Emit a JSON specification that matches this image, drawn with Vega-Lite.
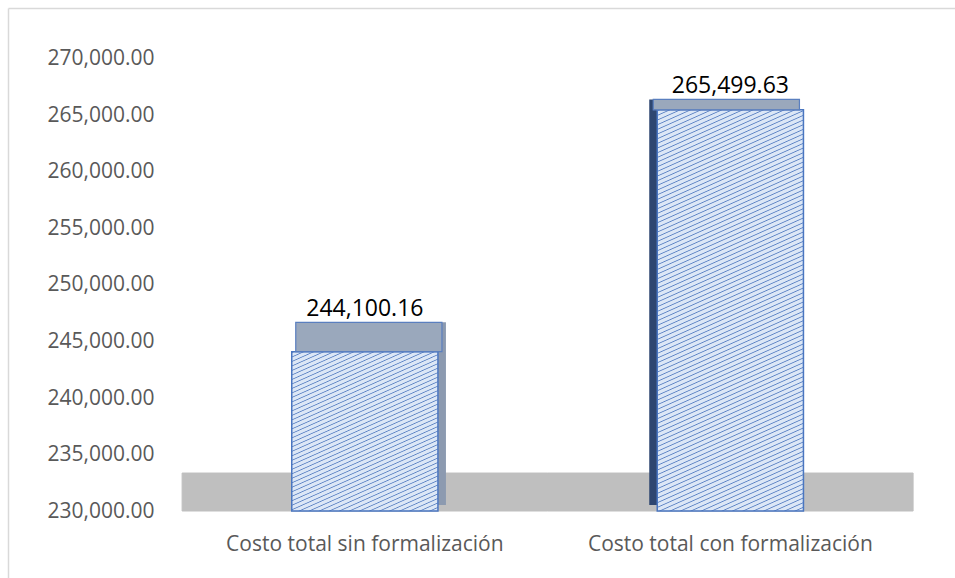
{
  "$schema": "https://vega.github.io/schema/vega-lite/v6.json",
  "width": 947,
  "height": 570,
  "autosize": "none",
  "padding": {"left": 8, "top": 8, "right": 0, "bottom": 0},
  "background": "white",
  "config": {"view": {"stroke": null}, "font": "Open Sans"},
  "data": {"values": [
    {"categoria": "Costo total sin formalización", "costo": 244100.16},
    {"categoria": "Costo total con formalización", "costo": 265499.63}
  ]},
  "encoding": {
    "x": {
      "field": "categoria", "type": "nominal", "sort": null,
      "scale": {"paddingInner": 0, "paddingOuter": 0.2955, "align": 0.806},
      "axis": {"orient": "top", "title": null, "labelAngle": 0, "domain": true, "domainColor": "#d9d9d9", "domainWidth": 1.5,
               "ticks": false, "labelPadding": -525, "labelLimit": 500,
               "labelFontSize": 21, "labelColor": "#595959", "labelFont": "Open Sans", "labelBaseline": "top"}
    },
    "y": {
      "field": "costo", "type": "quantitative",
      "scale": {"domain": [224071, 274513], "nice": false, "zero": false},
      "axis": {"title": null, "grid": false, "domain": true, "domainColor": "#d9d9d9", "domainWidth": 1.5, "ticks": false,
               "values": [230000, 235000, 240000, 245000, 250000, 255000, 260000, 265000, 270000],
               "format": ",.2f", "labelPadding": -146, "labelAlign": "right", "labelBaseline": "middle",
               "labelFontSize": 21, "labelColor": "#595959", "labelFont": "Open Sans"}
    }
  },
  "layer": [
    {
      "mark": {"type": "bar", "fill": "#bfbfbf", "stroke": "#bfbfbf", "strokeWidth": 1, "width": {"band": 1}},
      "encoding": {"y": {"datum": 230000, "type": "quantitative"}, "y2": {"datum": 233360}}
    },
    {
      "mark": {"type": "bar", "width": {"band": 0.4},
               "xOffset": {"expr": "scale('x', datum.categoria) + bandwidth('x')/2 < width/2 ? 8 : -8"},
               "yOffset": {"expr": "-(0.078*scale('y', datum.costo) + 2.5)"},
               "y2Offset": -6},
      "encoding": {
        "y2": {"datum": 230000},
        "color": {"field": "categoria", "type": "nominal", "legend": null,
                  "scale": {"domain": ["Costo total sin formalización", "Costo total con formalización"],
                            "range": ["#8c9ab0", "#2e4670"]}}
      }
    },
    {
      "transform": [{"filter": {"field": "categoria", "equal": "Costo total sin formalización"}}],
      "mark": {"type": "bar", "width": {"band": 0.4}, "stroke": "#4a76c0", "strokeWidth": 1.5,
               "fill": {"gradient": "linear", "x1": 0, "y1": 0, "x2": 0.495, "y2": 1.207, "stops": [
{"offset":0,"color":"#dce7f6"},{"offset":0.004,"color":"#5b82c4"},{"offset":0.008,"color":"#dce7f6"},
{"offset":0.02,"color":"#dce7f6"},{"offset":0.024,"color":"#5b82c4"},{"offset":0.028,"color":"#dce7f6"},
{"offset":0.04,"color":"#dce7f6"},{"offset":0.044,"color":"#5b82c4"},{"offset":0.048,"color":"#dce7f6"},
{"offset":0.06,"color":"#dce7f6"},{"offset":0.064,"color":"#5b82c4"},{"offset":0.068,"color":"#dce7f6"},
{"offset":0.08,"color":"#dce7f6"},{"offset":0.084,"color":"#5b82c4"},{"offset":0.088,"color":"#dce7f6"},
{"offset":0.1,"color":"#dce7f6"},{"offset":0.104,"color":"#5b82c4"},{"offset":0.108,"color":"#dce7f6"},
{"offset":0.12,"color":"#dce7f6"},{"offset":0.124,"color":"#5b82c4"},{"offset":0.128,"color":"#dce7f6"},
{"offset":0.14,"color":"#dce7f6"},{"offset":0.144,"color":"#5b82c4"},{"offset":0.148,"color":"#dce7f6"},
{"offset":0.16,"color":"#dce7f6"},{"offset":0.164,"color":"#5b82c4"},{"offset":0.168,"color":"#dce7f6"},
{"offset":0.18,"color":"#dce7f6"},{"offset":0.184,"color":"#5b82c4"},{"offset":0.188,"color":"#dce7f6"},
{"offset":0.2,"color":"#dce7f6"},{"offset":0.204,"color":"#5b82c4"},{"offset":0.208,"color":"#dce7f6"},
{"offset":0.22,"color":"#dce7f6"},{"offset":0.224,"color":"#5b82c4"},{"offset":0.228,"color":"#dce7f6"},
{"offset":0.24,"color":"#dce7f6"},{"offset":0.244,"color":"#5b82c4"},{"offset":0.248,"color":"#dce7f6"},
{"offset":0.26,"color":"#dce7f6"},{"offset":0.264,"color":"#5b82c4"},{"offset":0.268,"color":"#dce7f6"},
{"offset":0.28,"color":"#dce7f6"},{"offset":0.284,"color":"#5b82c4"},{"offset":0.288,"color":"#dce7f6"},
{"offset":0.3,"color":"#dce7f6"},{"offset":0.304,"color":"#5b82c4"},{"offset":0.308,"color":"#dce7f6"},
{"offset":0.32,"color":"#dce7f6"},{"offset":0.324,"color":"#5b82c4"},{"offset":0.328,"color":"#dce7f6"},
{"offset":0.34,"color":"#dce7f6"},{"offset":0.344,"color":"#5b82c4"},{"offset":0.348,"color":"#dce7f6"},
{"offset":0.36,"color":"#dce7f6"},{"offset":0.364,"color":"#5b82c4"},{"offset":0.368,"color":"#dce7f6"},
{"offset":0.38,"color":"#dce7f6"},{"offset":0.384,"color":"#5b82c4"},{"offset":0.388,"color":"#dce7f6"},
{"offset":0.4,"color":"#dce7f6"},{"offset":0.404,"color":"#5b82c4"},{"offset":0.408,"color":"#dce7f6"},
{"offset":0.42,"color":"#dce7f6"},{"offset":0.424,"color":"#5b82c4"},{"offset":0.428,"color":"#dce7f6"},
{"offset":0.44,"color":"#dce7f6"},{"offset":0.444,"color":"#5b82c4"},{"offset":0.448,"color":"#dce7f6"},
{"offset":0.46,"color":"#dce7f6"},{"offset":0.464,"color":"#5b82c4"},{"offset":0.468,"color":"#dce7f6"},
{"offset":0.48,"color":"#dce7f6"},{"offset":0.484,"color":"#5b82c4"},{"offset":0.488,"color":"#dce7f6"},
{"offset":0.5,"color":"#dce7f6"},{"offset":0.504,"color":"#5b82c4"},{"offset":0.508,"color":"#dce7f6"},
{"offset":0.52,"color":"#dce7f6"},{"offset":0.524,"color":"#5b82c4"},{"offset":0.528,"color":"#dce7f6"},
{"offset":0.54,"color":"#dce7f6"},{"offset":0.544,"color":"#5b82c4"},{"offset":0.548,"color":"#dce7f6"},
{"offset":0.56,"color":"#dce7f6"},{"offset":0.564,"color":"#5b82c4"},{"offset":0.568,"color":"#dce7f6"},
{"offset":0.58,"color":"#dce7f6"},{"offset":0.584,"color":"#5b82c4"},{"offset":0.588,"color":"#dce7f6"},
{"offset":0.6,"color":"#dce7f6"},{"offset":0.604,"color":"#5b82c4"},{"offset":0.608,"color":"#dce7f6"},
{"offset":0.62,"color":"#dce7f6"},{"offset":0.624,"color":"#5b82c4"},{"offset":0.628,"color":"#dce7f6"},
{"offset":0.64,"color":"#dce7f6"},{"offset":0.644,"color":"#5b82c4"},{"offset":0.648,"color":"#dce7f6"},
{"offset":0.66,"color":"#dce7f6"},{"offset":0.664,"color":"#5b82c4"},{"offset":0.668,"color":"#dce7f6"},
{"offset":0.68,"color":"#dce7f6"},{"offset":0.684,"color":"#5b82c4"},{"offset":0.688,"color":"#dce7f6"},
{"offset":0.7,"color":"#dce7f6"},{"offset":0.704,"color":"#5b82c4"},{"offset":0.708,"color":"#dce7f6"},
{"offset":0.72,"color":"#dce7f6"},{"offset":0.724,"color":"#5b82c4"},{"offset":0.728,"color":"#dce7f6"},
{"offset":0.74,"color":"#dce7f6"},{"offset":0.744,"color":"#5b82c4"},{"offset":0.748,"color":"#dce7f6"},
{"offset":0.76,"color":"#dce7f6"},{"offset":0.764,"color":"#5b82c4"},{"offset":0.768,"color":"#dce7f6"},
{"offset":0.78,"color":"#dce7f6"},{"offset":0.784,"color":"#5b82c4"},{"offset":0.788,"color":"#dce7f6"},
{"offset":0.8,"color":"#dce7f6"},{"offset":0.804,"color":"#5b82c4"},{"offset":0.808,"color":"#dce7f6"},
{"offset":0.82,"color":"#dce7f6"},{"offset":0.824,"color":"#5b82c4"},{"offset":0.828,"color":"#dce7f6"},
{"offset":0.84,"color":"#dce7f6"},{"offset":0.844,"color":"#5b82c4"},{"offset":0.848,"color":"#dce7f6"},
{"offset":0.86,"color":"#dce7f6"},{"offset":0.864,"color":"#5b82c4"},{"offset":0.868,"color":"#dce7f6"},
{"offset":0.88,"color":"#dce7f6"},{"offset":0.884,"color":"#5b82c4"},{"offset":0.888,"color":"#dce7f6"},
{"offset":0.9,"color":"#dce7f6"},{"offset":0.904,"color":"#5b82c4"},{"offset":0.908,"color":"#dce7f6"},
{"offset":0.92,"color":"#dce7f6"},{"offset":0.924,"color":"#5b82c4"},{"offset":0.928,"color":"#dce7f6"},
{"offset":0.94,"color":"#dce7f6"},{"offset":0.944,"color":"#5b82c4"},{"offset":0.948,"color":"#dce7f6"},
{"offset":0.96,"color":"#dce7f6"},{"offset":0.964,"color":"#5b82c4"},{"offset":0.968,"color":"#dce7f6"},
{"offset":0.98,"color":"#dce7f6"},{"offset":0.984,"color":"#5b82c4"},{"offset":0.988,"color":"#dce7f6"},
{"offset":1,"color":"#dce7f6"}
               ]}},
      "encoding": {"y2": {"datum": 230000}}
    },
    {
      "transform": [{"filter": {"field": "categoria", "equal": "Costo total con formalización"}}],
      "mark": {"type": "bar", "width": {"band": 0.4}, "stroke": "#4a76c0", "strokeWidth": 1.5,
               "fill": {"gradient": "linear", "x1": 0, "y1": 0, "x2": 0.185, "y2": 1.133, "stops": [
{"offset":0,"color":"#dce7f6"},{"offset":0.002,"color":"#5b82c4"},{"offset":0.004,"color":"#dce7f6"},
{"offset":0.01,"color":"#dce7f6"},{"offset":0.012,"color":"#5b82c4"},{"offset":0.014,"color":"#dce7f6"},
{"offset":0.02,"color":"#dce7f6"},{"offset":0.022,"color":"#5b82c4"},{"offset":0.024,"color":"#dce7f6"},
{"offset":0.03,"color":"#dce7f6"},{"offset":0.032,"color":"#5b82c4"},{"offset":0.034,"color":"#dce7f6"},
{"offset":0.04,"color":"#dce7f6"},{"offset":0.042,"color":"#5b82c4"},{"offset":0.044,"color":"#dce7f6"},
{"offset":0.05,"color":"#dce7f6"},{"offset":0.052,"color":"#5b82c4"},{"offset":0.054,"color":"#dce7f6"},
{"offset":0.06,"color":"#dce7f6"},{"offset":0.062,"color":"#5b82c4"},{"offset":0.064,"color":"#dce7f6"},
{"offset":0.07,"color":"#dce7f6"},{"offset":0.072,"color":"#5b82c4"},{"offset":0.074,"color":"#dce7f6"},
{"offset":0.08,"color":"#dce7f6"},{"offset":0.082,"color":"#5b82c4"},{"offset":0.084,"color":"#dce7f6"},
{"offset":0.09,"color":"#dce7f6"},{"offset":0.092,"color":"#5b82c4"},{"offset":0.094,"color":"#dce7f6"},
{"offset":0.1,"color":"#dce7f6"},{"offset":0.102,"color":"#5b82c4"},{"offset":0.104,"color":"#dce7f6"},
{"offset":0.11,"color":"#dce7f6"},{"offset":0.112,"color":"#5b82c4"},{"offset":0.114,"color":"#dce7f6"},
{"offset":0.12,"color":"#dce7f6"},{"offset":0.122,"color":"#5b82c4"},{"offset":0.124,"color":"#dce7f6"},
{"offset":0.13,"color":"#dce7f6"},{"offset":0.132,"color":"#5b82c4"},{"offset":0.134,"color":"#dce7f6"},
{"offset":0.14,"color":"#dce7f6"},{"offset":0.142,"color":"#5b82c4"},{"offset":0.144,"color":"#dce7f6"},
{"offset":0.15,"color":"#dce7f6"},{"offset":0.152,"color":"#5b82c4"},{"offset":0.154,"color":"#dce7f6"},
{"offset":0.16,"color":"#dce7f6"},{"offset":0.162,"color":"#5b82c4"},{"offset":0.164,"color":"#dce7f6"},
{"offset":0.17,"color":"#dce7f6"},{"offset":0.172,"color":"#5b82c4"},{"offset":0.174,"color":"#dce7f6"},
{"offset":0.18,"color":"#dce7f6"},{"offset":0.182,"color":"#5b82c4"},{"offset":0.184,"color":"#dce7f6"},
{"offset":0.19,"color":"#dce7f6"},{"offset":0.192,"color":"#5b82c4"},{"offset":0.194,"color":"#dce7f6"},
{"offset":0.2,"color":"#dce7f6"},{"offset":0.202,"color":"#5b82c4"},{"offset":0.204,"color":"#dce7f6"},
{"offset":0.21,"color":"#dce7f6"},{"offset":0.212,"color":"#5b82c4"},{"offset":0.214,"color":"#dce7f6"},
{"offset":0.22,"color":"#dce7f6"},{"offset":0.222,"color":"#5b82c4"},{"offset":0.224,"color":"#dce7f6"},
{"offset":0.23,"color":"#dce7f6"},{"offset":0.232,"color":"#5b82c4"},{"offset":0.234,"color":"#dce7f6"},
{"offset":0.24,"color":"#dce7f6"},{"offset":0.242,"color":"#5b82c4"},{"offset":0.244,"color":"#dce7f6"},
{"offset":0.25,"color":"#dce7f6"},{"offset":0.252,"color":"#5b82c4"},{"offset":0.254,"color":"#dce7f6"},
{"offset":0.26,"color":"#dce7f6"},{"offset":0.262,"color":"#5b82c4"},{"offset":0.264,"color":"#dce7f6"},
{"offset":0.27,"color":"#dce7f6"},{"offset":0.272,"color":"#5b82c4"},{"offset":0.274,"color":"#dce7f6"},
{"offset":0.28,"color":"#dce7f6"},{"offset":0.282,"color":"#5b82c4"},{"offset":0.284,"color":"#dce7f6"},
{"offset":0.29,"color":"#dce7f6"},{"offset":0.292,"color":"#5b82c4"},{"offset":0.294,"color":"#dce7f6"},
{"offset":0.3,"color":"#dce7f6"},{"offset":0.302,"color":"#5b82c4"},{"offset":0.304,"color":"#dce7f6"},
{"offset":0.31,"color":"#dce7f6"},{"offset":0.312,"color":"#5b82c4"},{"offset":0.314,"color":"#dce7f6"},
{"offset":0.32,"color":"#dce7f6"},{"offset":0.322,"color":"#5b82c4"},{"offset":0.324,"color":"#dce7f6"},
{"offset":0.33,"color":"#dce7f6"},{"offset":0.332,"color":"#5b82c4"},{"offset":0.334,"color":"#dce7f6"},
{"offset":0.34,"color":"#dce7f6"},{"offset":0.342,"color":"#5b82c4"},{"offset":0.344,"color":"#dce7f6"},
{"offset":0.35,"color":"#dce7f6"},{"offset":0.352,"color":"#5b82c4"},{"offset":0.354,"color":"#dce7f6"},
{"offset":0.36,"color":"#dce7f6"},{"offset":0.362,"color":"#5b82c4"},{"offset":0.364,"color":"#dce7f6"},
{"offset":0.37,"color":"#dce7f6"},{"offset":0.372,"color":"#5b82c4"},{"offset":0.374,"color":"#dce7f6"},
{"offset":0.38,"color":"#dce7f6"},{"offset":0.382,"color":"#5b82c4"},{"offset":0.384,"color":"#dce7f6"},
{"offset":0.39,"color":"#dce7f6"},{"offset":0.392,"color":"#5b82c4"},{"offset":0.394,"color":"#dce7f6"},
{"offset":0.4,"color":"#dce7f6"},{"offset":0.402,"color":"#5b82c4"},{"offset":0.404,"color":"#dce7f6"},
{"offset":0.41,"color":"#dce7f6"},{"offset":0.412,"color":"#5b82c4"},{"offset":0.414,"color":"#dce7f6"},
{"offset":0.42,"color":"#dce7f6"},{"offset":0.422,"color":"#5b82c4"},{"offset":0.424,"color":"#dce7f6"},
{"offset":0.43,"color":"#dce7f6"},{"offset":0.432,"color":"#5b82c4"},{"offset":0.434,"color":"#dce7f6"},
{"offset":0.44,"color":"#dce7f6"},{"offset":0.442,"color":"#5b82c4"},{"offset":0.444,"color":"#dce7f6"},
{"offset":0.45,"color":"#dce7f6"},{"offset":0.452,"color":"#5b82c4"},{"offset":0.454,"color":"#dce7f6"},
{"offset":0.46,"color":"#dce7f6"},{"offset":0.462,"color":"#5b82c4"},{"offset":0.464,"color":"#dce7f6"},
{"offset":0.47,"color":"#dce7f6"},{"offset":0.472,"color":"#5b82c4"},{"offset":0.474,"color":"#dce7f6"},
{"offset":0.48,"color":"#dce7f6"},{"offset":0.482,"color":"#5b82c4"},{"offset":0.484,"color":"#dce7f6"},
{"offset":0.49,"color":"#dce7f6"},{"offset":0.492,"color":"#5b82c4"},{"offset":0.494,"color":"#dce7f6"},
{"offset":0.5,"color":"#dce7f6"},{"offset":0.502,"color":"#5b82c4"},{"offset":0.504,"color":"#dce7f6"},
{"offset":0.51,"color":"#dce7f6"},{"offset":0.512,"color":"#5b82c4"},{"offset":0.514,"color":"#dce7f6"},
{"offset":0.52,"color":"#dce7f6"},{"offset":0.522,"color":"#5b82c4"},{"offset":0.524,"color":"#dce7f6"},
{"offset":0.53,"color":"#dce7f6"},{"offset":0.532,"color":"#5b82c4"},{"offset":0.534,"color":"#dce7f6"},
{"offset":0.54,"color":"#dce7f6"},{"offset":0.542,"color":"#5b82c4"},{"offset":0.544,"color":"#dce7f6"},
{"offset":0.55,"color":"#dce7f6"},{"offset":0.552,"color":"#5b82c4"},{"offset":0.554,"color":"#dce7f6"},
{"offset":0.56,"color":"#dce7f6"},{"offset":0.562,"color":"#5b82c4"},{"offset":0.564,"color":"#dce7f6"},
{"offset":0.57,"color":"#dce7f6"},{"offset":0.572,"color":"#5b82c4"},{"offset":0.574,"color":"#dce7f6"},
{"offset":0.58,"color":"#dce7f6"},{"offset":0.582,"color":"#5b82c4"},{"offset":0.584,"color":"#dce7f6"},
{"offset":0.59,"color":"#dce7f6"},{"offset":0.592,"color":"#5b82c4"},{"offset":0.594,"color":"#dce7f6"},
{"offset":0.6,"color":"#dce7f6"},{"offset":0.602,"color":"#5b82c4"},{"offset":0.604,"color":"#dce7f6"},
{"offset":0.61,"color":"#dce7f6"},{"offset":0.612,"color":"#5b82c4"},{"offset":0.614,"color":"#dce7f6"},
{"offset":0.62,"color":"#dce7f6"},{"offset":0.622,"color":"#5b82c4"},{"offset":0.624,"color":"#dce7f6"},
{"offset":0.63,"color":"#dce7f6"},{"offset":0.632,"color":"#5b82c4"},{"offset":0.634,"color":"#dce7f6"},
{"offset":0.64,"color":"#dce7f6"},{"offset":0.642,"color":"#5b82c4"},{"offset":0.644,"color":"#dce7f6"},
{"offset":0.65,"color":"#dce7f6"},{"offset":0.652,"color":"#5b82c4"},{"offset":0.654,"color":"#dce7f6"},
{"offset":0.66,"color":"#dce7f6"},{"offset":0.662,"color":"#5b82c4"},{"offset":0.664,"color":"#dce7f6"},
{"offset":0.67,"color":"#dce7f6"},{"offset":0.672,"color":"#5b82c4"},{"offset":0.674,"color":"#dce7f6"},
{"offset":0.68,"color":"#dce7f6"},{"offset":0.682,"color":"#5b82c4"},{"offset":0.684,"color":"#dce7f6"},
{"offset":0.69,"color":"#dce7f6"},{"offset":0.692,"color":"#5b82c4"},{"offset":0.694,"color":"#dce7f6"},
{"offset":0.7,"color":"#dce7f6"},{"offset":0.702,"color":"#5b82c4"},{"offset":0.704,"color":"#dce7f6"},
{"offset":0.71,"color":"#dce7f6"},{"offset":0.712,"color":"#5b82c4"},{"offset":0.714,"color":"#dce7f6"},
{"offset":0.72,"color":"#dce7f6"},{"offset":0.722,"color":"#5b82c4"},{"offset":0.724,"color":"#dce7f6"},
{"offset":0.73,"color":"#dce7f6"},{"offset":0.732,"color":"#5b82c4"},{"offset":0.734,"color":"#dce7f6"},
{"offset":0.74,"color":"#dce7f6"},{"offset":0.742,"color":"#5b82c4"},{"offset":0.744,"color":"#dce7f6"},
{"offset":0.75,"color":"#dce7f6"},{"offset":0.752,"color":"#5b82c4"},{"offset":0.754,"color":"#dce7f6"},
{"offset":0.76,"color":"#dce7f6"},{"offset":0.762,"color":"#5b82c4"},{"offset":0.764,"color":"#dce7f6"},
{"offset":0.77,"color":"#dce7f6"},{"offset":0.772,"color":"#5b82c4"},{"offset":0.774,"color":"#dce7f6"},
{"offset":0.78,"color":"#dce7f6"},{"offset":0.782,"color":"#5b82c4"},{"offset":0.784,"color":"#dce7f6"},
{"offset":0.79,"color":"#dce7f6"},{"offset":0.792,"color":"#5b82c4"},{"offset":0.794,"color":"#dce7f6"},
{"offset":0.8,"color":"#dce7f6"},{"offset":0.802,"color":"#5b82c4"},{"offset":0.804,"color":"#dce7f6"},
{"offset":0.81,"color":"#dce7f6"},{"offset":0.812,"color":"#5b82c4"},{"offset":0.814,"color":"#dce7f6"},
{"offset":0.82,"color":"#dce7f6"},{"offset":0.822,"color":"#5b82c4"},{"offset":0.824,"color":"#dce7f6"},
{"offset":0.83,"color":"#dce7f6"},{"offset":0.832,"color":"#5b82c4"},{"offset":0.834,"color":"#dce7f6"},
{"offset":0.84,"color":"#dce7f6"},{"offset":0.842,"color":"#5b82c4"},{"offset":0.844,"color":"#dce7f6"},
{"offset":0.85,"color":"#dce7f6"},{"offset":0.852,"color":"#5b82c4"},{"offset":0.854,"color":"#dce7f6"},
{"offset":0.86,"color":"#dce7f6"},{"offset":0.862,"color":"#5b82c4"},{"offset":0.864,"color":"#dce7f6"},
{"offset":0.87,"color":"#dce7f6"},{"offset":0.872,"color":"#5b82c4"},{"offset":0.874,"color":"#dce7f6"},
{"offset":0.88,"color":"#dce7f6"},{"offset":0.882,"color":"#5b82c4"},{"offset":0.884,"color":"#dce7f6"},
{"offset":0.89,"color":"#dce7f6"},{"offset":0.892,"color":"#5b82c4"},{"offset":0.894,"color":"#dce7f6"},
{"offset":0.9,"color":"#dce7f6"},{"offset":0.902,"color":"#5b82c4"},{"offset":0.904,"color":"#dce7f6"},
{"offset":0.91,"color":"#dce7f6"},{"offset":0.912,"color":"#5b82c4"},{"offset":0.914,"color":"#dce7f6"},
{"offset":0.92,"color":"#dce7f6"},{"offset":0.922,"color":"#5b82c4"},{"offset":0.924,"color":"#dce7f6"},
{"offset":0.93,"color":"#dce7f6"},{"offset":0.932,"color":"#5b82c4"},{"offset":0.934,"color":"#dce7f6"},
{"offset":0.94,"color":"#dce7f6"},{"offset":0.942,"color":"#5b82c4"},{"offset":0.944,"color":"#dce7f6"},
{"offset":0.95,"color":"#dce7f6"},{"offset":0.952,"color":"#5b82c4"},{"offset":0.954,"color":"#dce7f6"},
{"offset":0.96,"color":"#dce7f6"},{"offset":0.962,"color":"#5b82c4"},{"offset":0.964,"color":"#dce7f6"},
{"offset":0.97,"color":"#dce7f6"},{"offset":0.972,"color":"#5b82c4"},{"offset":0.974,"color":"#dce7f6"},
{"offset":0.98,"color":"#dce7f6"},{"offset":0.982,"color":"#5b82c4"},{"offset":0.984,"color":"#dce7f6"},
{"offset":0.99,"color":"#dce7f6"},{"offset":0.992,"color":"#5b82c4"},{"offset":0.994,"color":"#dce7f6"},
{"offset":1,"color":"#dce7f6"}
               ]}},
      "encoding": {"y2": {"datum": 230000}}
    },
    {
      "mark": {"type": "bar", "width": {"band": 0.4}, "fill": "#9aa8bc", "stroke": "#5a7fbf", "strokeWidth": 1.2,
               "xOffset": {"expr": "scale('x', datum.categoria) + bandwidth('x')/2 < width/2 ? 4 : -4"},
               "yOffset": {"expr": "-(0.078*scale('y', datum.costo) + 2.5)"}},
      "encoding": {"y2": {"field": "costo"}}
    },
    {
      "mark": {"type": "text", "fontSize": 23, "color": "#000000", "baseline": "alphabetic", "font": "Open Sans",
               "dy": {"expr": "-(0.078*scale('y', datum.costo) + 2.5) - 6"}},
      "encoding": {"text": {"field": "costo", "type": "quantitative", "format": ",.2f"}}
    }
  ]
}
